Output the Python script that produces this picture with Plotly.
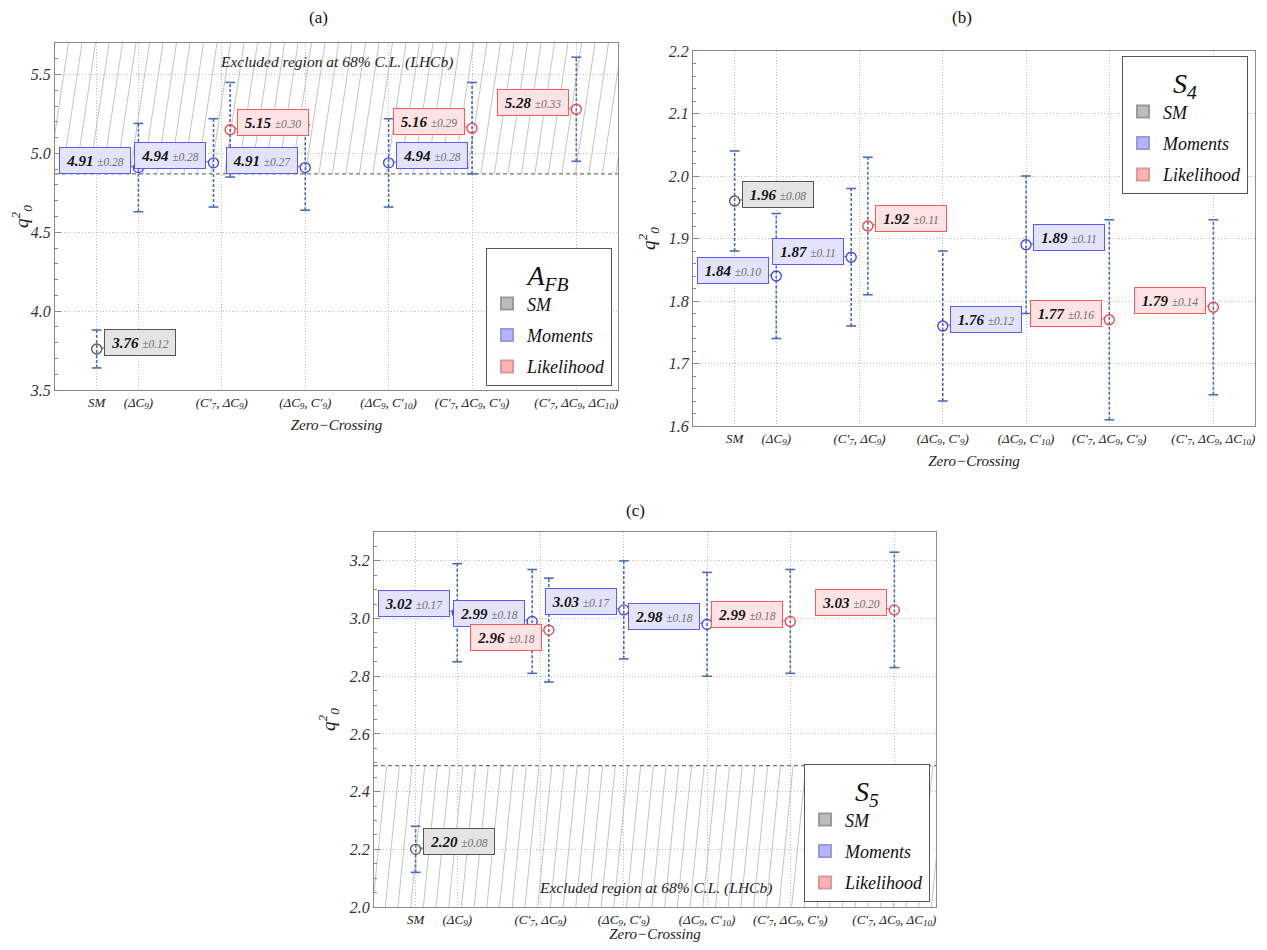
import numpy as np
import plotly.graph_objects as go

FONT = "Liberation Serif"

# ---------------- data ----------------
cat_labels = ["SM", "(ΔC<sub>9</sub>)", "(C′<sub>7</sub>, ΔC<sub>9</sub>)",
              "(ΔC<sub>9</sub>, C′<sub>9</sub>)", "(ΔC<sub>9</sub>, C′<sub>10</sub>)",
              "(C′<sub>7</sub>, ΔC<sub>9</sub>, C′<sub>9</sub>)",
              "(C′<sub>7</sub>, ΔC<sub>9</sub>, ΔC<sub>10</sub>)"]

methods = ["SM", "Moments", "Moments", "Likelihood", "Moments", "Moments", "Likelihood", "Likelihood"]
point_cat = [0, 1, 2, 2, 3, 4, 5, 6]

afb_value = [3.76, 4.91, 4.94, 5.15, 4.91, 4.94, 5.16, 5.28]
afb_error = [0.12, 0.28, 0.28, 0.30, 0.27, 0.28, 0.29, 0.33]

s4_value = [1.96, 1.84, 1.87, 1.92, 1.76, 1.89, 1.77, 1.79]
s4_error = [0.08, 0.10, 0.11, 0.11, 0.12, 0.11, 0.16, 0.14]

s5_value = [2.20, 3.02, 2.99, 2.96, 3.03, 2.98, 2.99, 3.03]
s5_error = [0.08, 0.17, 0.18, 0.18, 0.17, 0.18, 0.18, 0.20]

afb_excluded_above = 4.87
s5_excluded_below = 2.49

# ---------------- layout helpers (positions / styles) ----------------
cat_pos = [1, 1.5, 2.5, 3.5, 4.5, 5.5, 6.75]
method_shift = {"SM": 0.0, "Moments": -0.1, "Likelihood": 0.1}
XR = [0.5, 7.25]
W, H = 1267, 950
OFF = 8                      # page body margin of the html page
FW, FH = W - 2 * OFF, H - 2 * OFF

# label side (+1 right / -1 left) and vertical pixel offset per point
label_side = {
    "a": [1, -1, -1, 1, -1, 1, -1, -1],
    "b": [1, -1, -1, 1, 1, 1, -1, -1],
    "c": [1, -1, -1, -1, -1, -1, -1, -1],
}
label_dy = {
    "a": [-6, -7, -7, -7, -7, -7, -7, -7],
    "b": [-7, -6, -6, -8, -7, -7, -6, -7],
    "c": [-8, -9, -8, 7, -8, -8, -7, -7],
}

pt_color = {"SM": "#555555", "Moments": "#3d3dff", "Likelihood": "#ff3d3d"}
box_bg = {"SM": "#e4e4e4", "Moments": "#e3e3fb", "Likelihood": "#fde3e3"}
box_border = {"SM": "#555555", "Moments": "#5a5aff", "Likelihood": "#ff5a5a"}
swatch = {"SM": "#bdbdbd", "Moments": "#b3b3ff", "Likelihood": "#ffb3b3"}
swatch_line = {"SM": "#9a9a9a", "Moments": "#9a9ad8", "Likelihood": "#d89a9a"}
ERR_COLOR = "#4a6fb5"
GRID = "#bdbdbd"


def fx(px):
    return (px - OFF) / FW


def fy(py):
    return 1 - (py - OFF) / FH


def px_domain(x0, x1, y0, y1):
    return [fx(x0), fx(x1)], [fy(y1), fy(y0)]


panels = {
    "a": dict(dom=px_domain(55, 618, 43, 390), yr=[3.5, 5.7], dtick=0.5, minor=0.1,
              vals=afb_value, errs=afb_error, xa="x", ya="y", leg="legend",
              title="(a)", tx=318, ty=18),
    "b": dict(dom=px_domain(693, 1255, 51, 426), yr=[1.6, 2.2], dtick=0.1, minor=0.02,
              vals=s4_value, errs=s4_error, xa="x2", ya="y2", leg="legend2",
              title="(b)", tx=962, ty=18),
    "c": dict(dom=px_domain(374, 936, 532, 907), yr=[2.0, 3.3], dtick=0.2, minor=0.05,
              vals=s5_value, errs=s5_error, xa="x3", ya="y3", leg="legend3",
              title="(c)", tx=636, ty=511),
}


def hatch(xr, yr, y0, y1, wpx, hpx, spacing=13.5, slope=0.12):
    ux = wpx / (xr[1] - xr[0])
    uy = hpx / (yr[1] - yr[0])
    h = (y1 - y0) * uy
    xs, ys = [], []
    for p in np.arange(-h * slope - spacing, wpx + spacing, spacing):
        xs += [xr[0] + p / ux, xr[0] + (p + h * slope) / ux, None]
        ys += [y0, y1, None]
    return xs, ys


fig = go.Figure()
annotations = []
layout = {}

for key, P in panels.items():
    xa, ya = P["xa"], P["ya"]
    (dx0, dx1), (dy0, dy1) = P["dom"]
    wpx = (dx1 - dx0) * FW
    hpx = (dy1 - dy0) * FH
    yr = P["yr"]

    # excluded region hatch + dashed boundary
    if key == "a":
        hx, hy = hatch(XR, yr, afb_excluded_above, yr[1], wpx, hpx, 13.5, 0.15)
        fig.add_trace(go.Scatter(x=hx, y=hy, mode="lines", xaxis=xa, yaxis=ya,
                                 line=dict(color="#b5b5b5", width=0.8),
                                 showlegend=False, hoverinfo="skip"))
        fig.add_trace(go.Scatter(x=XR, y=[afb_excluded_above] * 2, mode="lines",
                                 xaxis=xa, yaxis=ya, showlegend=False, hoverinfo="skip",
                                 line=dict(color="#777777", width=1.2, dash="4px,3px")))
    if key == "c":
        hx, hy = hatch(XR, yr, yr[0], s5_excluded_below, wpx, hpx, 12.7, 0.1)
        fig.add_trace(go.Scatter(x=hx, y=hy, mode="lines", xaxis=xa, yaxis=ya,
                                 line=dict(color="#b5b5b5", width=0.8),
                                 showlegend=False, hoverinfo="skip"))
        fig.add_trace(go.Scatter(x=XR, y=[s5_excluded_below] * 2, mode="lines",
                                 xaxis=xa, yaxis=ya, showlegend=False, hoverinfo="skip",
                                 line=dict(color="#777777", width=1.2, dash="4px,3px")))

    xs = [cat_pos[c] + (method_shift[m] if c == 2 else 0.0)
          for c, m in zip(point_cat, methods)]
    vals, errs = P["vals"], P["errs"]

    # error bars (dashed)
    ex, ey, cx, cy = [], [], [], []
    for x, v, e in zip(xs, vals, errs):
        ex += [x, x, None]
        ey += [v - e, v + e, None]
        cx += [x, x]
        cy += [v - e, v + e]
    fig.add_trace(go.Scatter(x=ex, y=ey, mode="lines", xaxis=xa, yaxis=ya,
                             line=dict(color=ERR_COLOR, width=1.6, dash="3px,2px"),
                             showlegend=False, hoverinfo="skip"))
    fig.add_trace(go.Scatter(x=cx, y=cy, mode="markers", xaxis=xa, yaxis=ya,
                             marker=dict(symbol="line-ew", size=7, color=ERR_COLOR,
                                         line=dict(color=ERR_COLOR, width=1.6)),
                             showlegend=False, hoverinfo="skip"))

    # points
    for m in ["SM", "Moments", "Likelihood"]:
        idx = [i for i, mm in enumerate(methods) if mm == m]
        fig.add_trace(go.Scatter(
            x=[xs[i] for i in idx], y=[vals[i] for i in idx], mode="markers",
            xaxis=xa, yaxis=ya, showlegend=False,
            marker=dict(symbol="circle-open", size=10, color=pt_color[m],
                        line=dict(color=pt_color[m], width=1.3))))

    # value labels
    for i, (x, v, e, m) in enumerate(zip(xs, vals, errs, methods)):
        annotations.append(dict(
            x=x, y=v, xref=xa, yref=ya,
            text=f"<b>{v:.2f}</b> <span style='font-size:11.5px;color:#707070'>±{e:.2f}</span>",
            showarrow=True, arrowhead=0, arrowwidth=1, arrowcolor=box_border[m],
            ax=43 * label_side[key][i], ay=label_dy[key][i], standoff=5,
            width=66, height=21, borderpad=2, borderwidth=1,
            bgcolor=box_bg[m], bordercolor=box_border[m],
            font=dict(family=FONT, size=15, color="#111111", style="italic")))

    # legend entries
    for m in ["SM", "Moments", "Likelihood"]:
        fig.add_trace(go.Scatter(
            x=[None], y=[None], mode="markers", name=m, legend=P["leg"],
            legendgroup=key + m, xaxis=xa, yaxis=ya,
            marker=dict(symbol="square", size=20, color=swatch[m],
                        line=dict(color=swatch_line[m], width=1))))

    suffix = "" if key == "a" else ("2" if key == "b" else "3")
    layout["xaxis" + suffix] = dict(
        domain=[dx0, dx1], range=XR, anchor=ya, tickvals=cat_pos, ticktext=cat_labels,
        showgrid=True, gridcolor=GRID, griddash="1px,2px", gridwidth=1,
        showline=True, linecolor="#8a8a8a", linewidth=1, mirror=True,
        ticks="", zeroline=False, automargin=False,
        tickfont=dict(family=FONT, size=13, color="#222", style="italic"),
        title=dict(text="Zero−Crossing", standoff=9,
                   font=dict(family=FONT, size=15, color="#222", style="italic")))
    layout["yaxis" + suffix] = dict(
        domain=[dy0, dy1], range=yr, anchor=xa, tick0=yr[0], dtick=P["dtick"],
        tickformat=".1f", showgrid=True, gridcolor=GRID, griddash="1px,2px",
        showline=True, linecolor="#8a8a8a", linewidth=1, mirror=True,
        ticks="inside", ticklen=6, tickcolor="#8a8a8a", zeroline=False, automargin=False,
        minor=dict(dtick=P["minor"], ticks="inside", ticklen=3, tickcolor="#8a8a8a",
                   showgrid=False),
        tickfont=dict(family=FONT, size=16, color="#333", style="italic"),
        title=dict(text="q<sup>2</sup><sub>0</sub>", standoff=8,
                   font=dict(family=FONT, size=19, color="#222", style="italic")))

    # panel title
    annotations.append(dict(x=fx(P["tx"]), y=fy(P["ty"]), xref="paper", yref="paper",
                            text=P["title"], showarrow=False, xanchor="center",
                            yanchor="middle",
                            font=dict(family=FONT, size=17, color="#111")))

# excluded-region texts
for tx, ty in [(336, 62), (655, 888)]:
    annotations.append(dict(x=fx(tx), y=fy(ty), xref="paper", yref="paper",
                            text="Excluded region at 68% C.L. (LHCb)", showarrow=False,
                            xanchor="center", yanchor="middle",
                            font=dict(family=FONT, size=15.5, color="#222", style="italic")))


def legend_cfg(title, x, y, yanchor):
    return dict(x=x, xanchor="right", y=y, yanchor=yanchor, bgcolor="white",
                bordercolor="#555555", borderwidth=1, itemsizing="constant",
                tracegroupgap=5,
                font=dict(family=FONT, size=18, color="#111", style="italic"),
                title=dict(text=title, side="top center",
                           font=dict(family=FONT, size=28, color="#111", style="italic")))


layout["legend"] = legend_cfg("A<sub>FB</sub>", fx(612), fy(386), "bottom")
layout["legend2"] = legend_cfg("S<sub>4</sub>", fx(1248), fy(56), "top")
layout["legend3"] = legend_cfg("S<sub>5</sub>", fx(930), fy(902), "bottom")

fig.update_layout(
    width=FW, height=FH, template="none", margin=dict(l=0, r=0, t=0, b=0),
    paper_bgcolor="white", plot_bgcolor="white", annotations=annotations,
    font=dict(family=FONT), **layout)

fig.write_html("out.html")
